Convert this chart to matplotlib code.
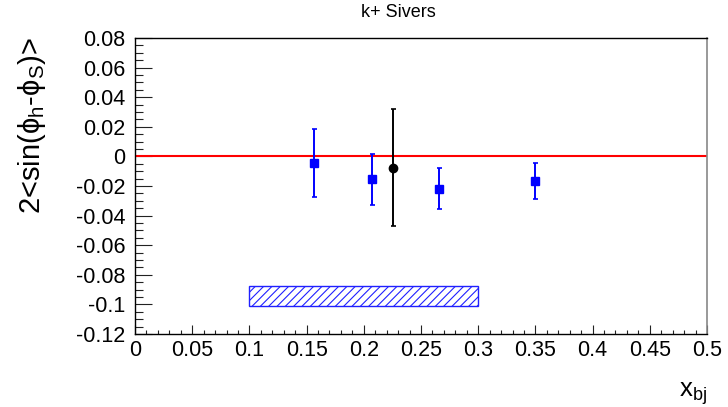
import numpy as np
import matplotlib
matplotlib.use("Agg")
import matplotlib.pyplot as plt
from matplotlib.patches import Rectangle
from matplotlib.ticker import MultipleLocator

plt.rcParams['font.family'] = ['Liberation Sans', 'DejaVu Sans']
plt.rcParams['mathtext.fontset'] = 'custom'
plt.rcParams['mathtext.rm'] = 'Liberation Sans'
plt.rcParams['mathtext.it'] = 'Liberation Sans:italic'
plt.rcParams['hatch.linewidth'] = 0.8

# k+ Sivers asymmetry in x_bj bins
x_kp = [0.1565, 0.207, 0.2657, 0.3497]
y_kp = [-0.0044, -0.0156, -0.0217, -0.0167]
err_kp = [0.023, 0.0174, 0.014, 0.012]

# integrated value
x_int = [0.2258]
y_int = [-0.0075]
err_int = [0.0395]

# systematic band
sys_x = [0.1, 0.3]
sys_y = [-0.1011, -0.0878]

W, H = 728, 407
fig = plt.figure(figsize=(W / 100, H / 100), dpi=100)
ax = fig.add_axes([135 / W, (H - 334) / H, (707 - 135) / W, (334 - 38) / H])

ax.set_xlim(0, 0.5)
ax.set_ylim(-0.12, 0.08)

ax.axhline(0, color='#ff0000', lw=1.5, zorder=2)

ax.add_patch(Rectangle((sys_x[0], sys_y[0]), sys_x[1] - sys_x[0], sys_y[1] - sys_y[0],
                       facecolor='white', edgecolor='#2020ff', hatch='////', lw=1.0, zorder=1))

ax.errorbar(x_kp, y_kp, yerr=err_kp, fmt='s', color='#0000ff', ms=6,
            elinewidth=1.4, capsize=1.8, capthick=1.2, zorder=3)
ax.errorbar(x_int, y_int, yerr=err_int, fmt='o', color='black', ms=6,
            elinewidth=1.4, capsize=1.8, capthick=1.2, zorder=4)

ax.xaxis.set_major_locator(MultipleLocator(0.05))
ax.xaxis.set_minor_locator(MultipleLocator(0.01))
ax.yaxis.set_major_locator(MultipleLocator(0.02))
ax.yaxis.set_minor_locator(MultipleLocator(0.005))

ax.tick_params(axis='both', which='both', direction='in', top=False, right=False,
               labelsize=15.5, width=0.8, color='#222222')
ax.tick_params(axis='y', which='major', length=12, pad=7)
ax.tick_params(axis='y', which='minor', length=5.8)
ax.tick_params(axis='x', which='major', length=6.5, pad=4)
ax.tick_params(axis='x', which='minor', length=3.2)

def fmt(v, pos):
    s = ('%.2f' % v).rstrip('0').rstrip('.')
    if s in ('-0', ''):
        s = '0'
    return s

ax.xaxis.set_major_formatter(plt.FuncFormatter(fmt))
ax.yaxis.set_major_formatter(plt.FuncFormatter(fmt))

for side in ('left', 'bottom', 'top'):
    ax.spines[side].set_color('black')
    ax.spines[side].set_linewidth(1.0)
ax.spines['right'].set_color('#888888')
ax.spines['right'].set_linewidth(1.2)

fig.text(398 / W, 1 - 17 / H, 'k+ Sivers', ha='center', va='baseline', fontsize=13)
fig.text(32 / W, 1 - 37 / H, r'2<sin(ϕ$_{\mathrm{h}}$-ϕ$_{\mathrm{S}}$)>',
         rotation=90, ha='center', va='top', fontsize=21)
fig.text(707 / W, 1 - 397 / H, r'x$_{\mathrm{bj}}$', ha='right', va='baseline', fontsize=18.5)

fig.savefig('out.png', dpi=100)
